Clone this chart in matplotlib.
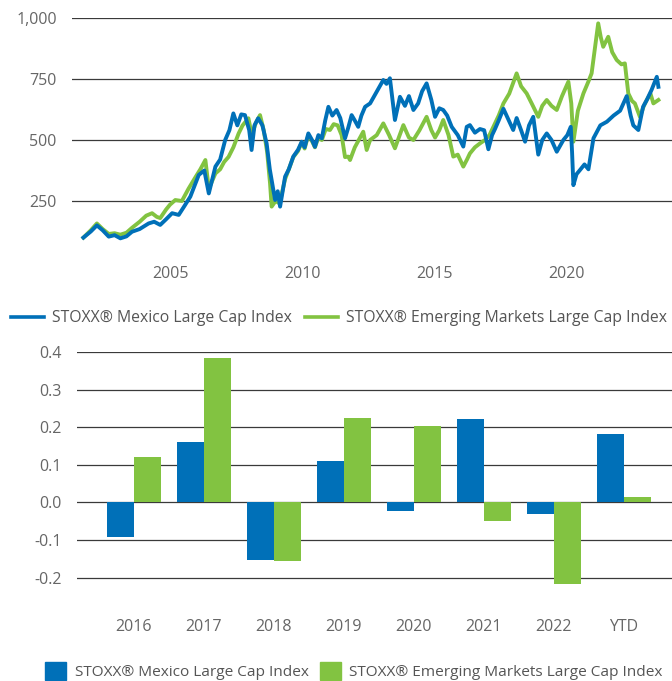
"""STOXX Mexico vs Emerging Markets large cap: index history and yearly returns."""

import matplotlib

matplotlib.use("Agg")
import matplotlib.pyplot as plt
from matplotlib.lines import Line2D
from matplotlib.patches import Patch

# --- index levels (decimal years) ---
mx_year = [
    2001.72, 2002.0, 2002.23, 2002.45, 2002.68, 2002.9, 2003.12, 2003.35, 2003.56, 2003.85,
    2004.19, 2004.4, 2004.63, 2004.85, 2005.08, 2005.33, 2005.55, 2005.77, 2006.09, 2006.3,
    2006.47, 2006.72, 2006.9, 2007.09, 2007.25, 2007.4, 2007.55, 2007.7, 2007.84, 2008.0,
    2008.09, 2008.2, 2008.34, 2008.5, 2008.66, 2008.78, 2008.85, 2008.98, 2009.08, 2009.17,
    2009.36, 2009.5, 2009.67, 2009.85, 2009.99, 2010.1, 2010.24, 2010.38, 2010.49, 2010.62,
    2010.75, 2010.88, 2011.0, 2011.15, 2011.31, 2011.45, 2011.63, 2011.75, 2011.88, 2012.0,
    2012.13, 2012.25, 2012.39, 2012.58, 2012.83, 2013.08, 2013.2, 2013.33, 2013.52, 2013.71,
    2013.9, 2014.05, 2014.22, 2014.4, 2014.55, 2014.72, 2014.9, 2015.04, 2015.2, 2015.35,
    2015.5, 2015.67, 2015.9, 2016.11, 2016.24, 2016.36, 2016.55, 2016.74, 2016.9, 2017.06,
    2017.2, 2017.31, 2017.45, 2017.63, 2017.75, 2017.88, 2018.0, 2018.13, 2018.3, 2018.45,
    2018.6, 2018.76, 2018.95, 2019.1, 2019.27, 2019.45, 2019.65, 2019.9, 2020.05, 2020.18,
    2020.23, 2020.28, 2020.4, 2020.53, 2020.7, 2020.85, 2021.04, 2021.3, 2021.55, 2021.8,
    2022.05, 2022.3, 2022.45, 2022.55, 2022.74, 2022.92, 2023.06, 2023.24, 2023.44, 2023.5,
]
mx_level = [
    100, 125, 150, 130, 104, 110, 97, 105, 124, 135,
    158, 165, 152, 175, 200, 193, 230, 268, 357, 375,
    281, 391, 420, 500, 540, 609, 560, 605, 602, 540,
    459, 560, 589, 560, 486, 380, 336, 254, 290, 227,
    350, 380, 432, 460, 493, 470, 527, 500, 472, 520,
    507, 580, 636, 600, 623, 590, 507, 550, 602, 580,
    554, 600, 636, 650, 698, 746, 730, 753, 582, 677,
    640, 680, 623, 650, 700, 732, 664, 595, 630, 623,
    600, 554, 520, 473, 554, 561, 530, 545, 540, 462,
    520, 545, 580, 628, 600, 570, 541, 590, 540, 493,
    560, 595, 440, 500, 527, 500, 452, 500, 520, 554,
    450, 315, 360, 377, 400, 380, 507, 560, 575, 600,
    620, 680, 600, 560, 541, 636, 664, 705, 759, 718,
]

em_year = [
    2001.72, 2002.0, 2002.23, 2002.45, 2002.68, 2002.9, 2003.12, 2003.35, 2003.56, 2003.85,
    2004.1, 2004.32, 2004.5, 2004.63, 2004.85, 2005.0, 2005.2, 2005.45, 2005.7, 2005.95,
    2006.15, 2006.34, 2006.47, 2006.72, 2006.9, 2007.05, 2007.22, 2007.4, 2007.6, 2007.75,
    2007.97, 2008.1, 2008.25, 2008.41, 2008.55, 2008.68, 2008.79, 2008.85, 2009.0, 2009.15,
    2009.36, 2009.5, 2009.67, 2009.85, 2009.99, 2010.1, 2010.24, 2010.38, 2010.49, 2010.62,
    2010.75, 2010.9, 2011.06, 2011.2, 2011.35, 2011.5, 2011.63, 2011.75, 2011.82, 2012.0,
    2012.15, 2012.32, 2012.45, 2012.58, 2012.83, 2013.08, 2013.3, 2013.52, 2013.7, 2013.84,
    2014.05, 2014.22, 2014.45, 2014.72, 2014.9, 2015.04, 2015.2, 2015.35, 2015.55, 2015.73,
    2015.9, 2016.11, 2016.25, 2016.36, 2016.55, 2016.74, 2016.93, 2017.1, 2017.25, 2017.45,
    2017.63, 2017.85, 2018.13, 2018.3, 2018.51, 2018.7, 2018.95, 2019.1, 2019.27, 2019.45,
    2019.65, 2019.85, 2020.09, 2020.2, 2020.28, 2020.45, 2020.66, 2020.85, 2020.97, 2021.1,
    2021.22, 2021.32, 2021.41, 2021.6, 2021.75, 2021.92, 2022.1, 2022.23, 2022.36, 2022.5,
    2022.61, 2022.8, 2022.95, 2023.06, 2023.2, 2023.31, 2023.5,
]
em_level = [
    100, 130, 158, 135, 115, 118, 112, 120, 140, 165,
    190, 200, 185, 180, 215, 235, 254, 250, 300, 345,
    380, 418, 300, 363, 380, 410, 431, 470, 527, 560,
    589, 520, 570, 602, 540, 450, 322, 227, 250, 240,
    340, 380, 430, 455, 490, 465, 520, 495, 470, 510,
    500, 545, 541, 565, 560, 520, 430, 432, 418, 470,
    500, 534, 459, 500, 520, 568, 520, 466, 520, 561,
    510, 500, 540, 595, 540, 510, 540, 582, 520, 432,
    440, 391, 420, 445, 470, 486, 500, 520, 554, 600,
    650, 690, 773, 720, 691, 650, 595, 640, 664, 640,
    623, 680, 739, 650, 493, 620, 691, 740, 773, 880,
    978, 920, 882, 923, 860, 828, 810, 814, 691, 660,
    650, 595, 640, 664, 690, 650, 664,
]
line_ticks = [2005, 2010, 2015, 2020]

# --- yearly returns ---
years = ["2016", "2017", "2018", "2019", "2020", "2021", "2022", "YTD"]
mx_return = [-0.092, 0.160, -0.152, 0.110, -0.022, 0.221, -0.030, 0.182]
em_return = [0.122, 0.383, -0.156, 0.224, 0.203, -0.050, -0.216, 0.014]

names = ["STOXX® Mexico Large Cap Index", "STOXX® Emerging Markets Large Cap Index"]
BLUE = "#0070b8"
GREEN = "#82c341"
GRID = "#3a3a3a"
TXT = "#666666"
LEG = "#555555"

plt.rcParams["font.family"] = ["Open Sans", "DejaVu Sans"]
plt.rcParams["font.size"] = 11.5
plt.rcParams["axes.unicode_minus"] = False

W, H = 672, 681
fig = plt.figure(figsize=(W / 100, H / 100), dpi=100)


def px_axes(left, top, right, bottom):
    return fig.add_axes([left / W, 1 - bottom / H, (right - left) / W, (bottom - top) / H])


def style(ax, pad_x):
    for s in ax.spines.values():
        s.set_visible(False)
    ax.grid(axis="y", color=GRID, lw=0.9)
    ax.set_axisbelow(True)
    ax.tick_params(length=0, colors=TXT, labelsize=11.5)
    ax.tick_params(axis="y", pad=11)
    ax.tick_params(axis="x", pad=pad_x)


# top: index history
ax1 = px_axes(72, 18, 672, 262)
ax1.plot(em_year, em_level, color=GREEN, lw=2.8, solid_joinstyle="round")
ax1.plot(mx_year, mx_level, color=BLUE, lw=2.8, solid_joinstyle="round")
ax1.set_ylim(0, 1000)
ax1.set_xlim(2005 - 98 / 26.4, 2005 + 502 / 26.4)
ax1.set_yticks([250, 500, 750, 1000])
ax1.set_yticklabels(["250", "500", "750", "1,000"])
ax1.set_xticks(line_ticks)
style(ax1, 3)

fig.legend(
    [Line2D([], [], color=BLUE, lw=2.6), Line2D([], [], color=GREEN, lw=2.6)],
    names, loc="center", bbox_to_anchor=(339 / W, 1 - 318 / H), ncol=2,
    frameon=False, handlelength=2.1, handletextpad=0.5, columnspacing=0.8,
    labelcolor=LEG, fontsize=11.3, borderpad=0.2, borderaxespad=0,
)

# bottom: yearly returns
ax2 = px_axes(77, 352, 672, 352 + 0.67 / 0.1 * 37.6)
idx = list(range(len(years)))
bw = 0.386
ax2.bar([i - bw / 2 for i in idx], mx_return, width=bw, color=BLUE)
ax2.bar([i + bw / 2 for i in idx], em_return, width=bw, color=GREEN)
ax2.set_ylim(-0.27, 0.4)
ax2.set_xlim(-57 / 70, 538 / 70)
ax2.set_yticks([-0.2, -0.1, 0.0, 0.1, 0.2, 0.3, 0.4])
ax2.set_yticklabels([f"{v:.1f}" for v in [-0.2, -0.1, 0.0, 0.1, 0.2, 0.3, 0.4]])
ax2.set_xticks(idx)
ax2.set_xticklabels(years)
style(ax2, 11)

fig.legend(
    [Patch(color=BLUE), Patch(color=GREEN)], names,
    loc="center", bbox_to_anchor=(354 / W, 1 - 671 / H), ncol=2,
    frameon=False, handlelength=1.35, handleheight=1.4, handletextpad=0.55,
    columnspacing=0.75, labelcolor=LEG, fontsize=11.1, borderpad=0.2, borderaxespad=0,
)

fig.savefig("out.png", dpi=100)
